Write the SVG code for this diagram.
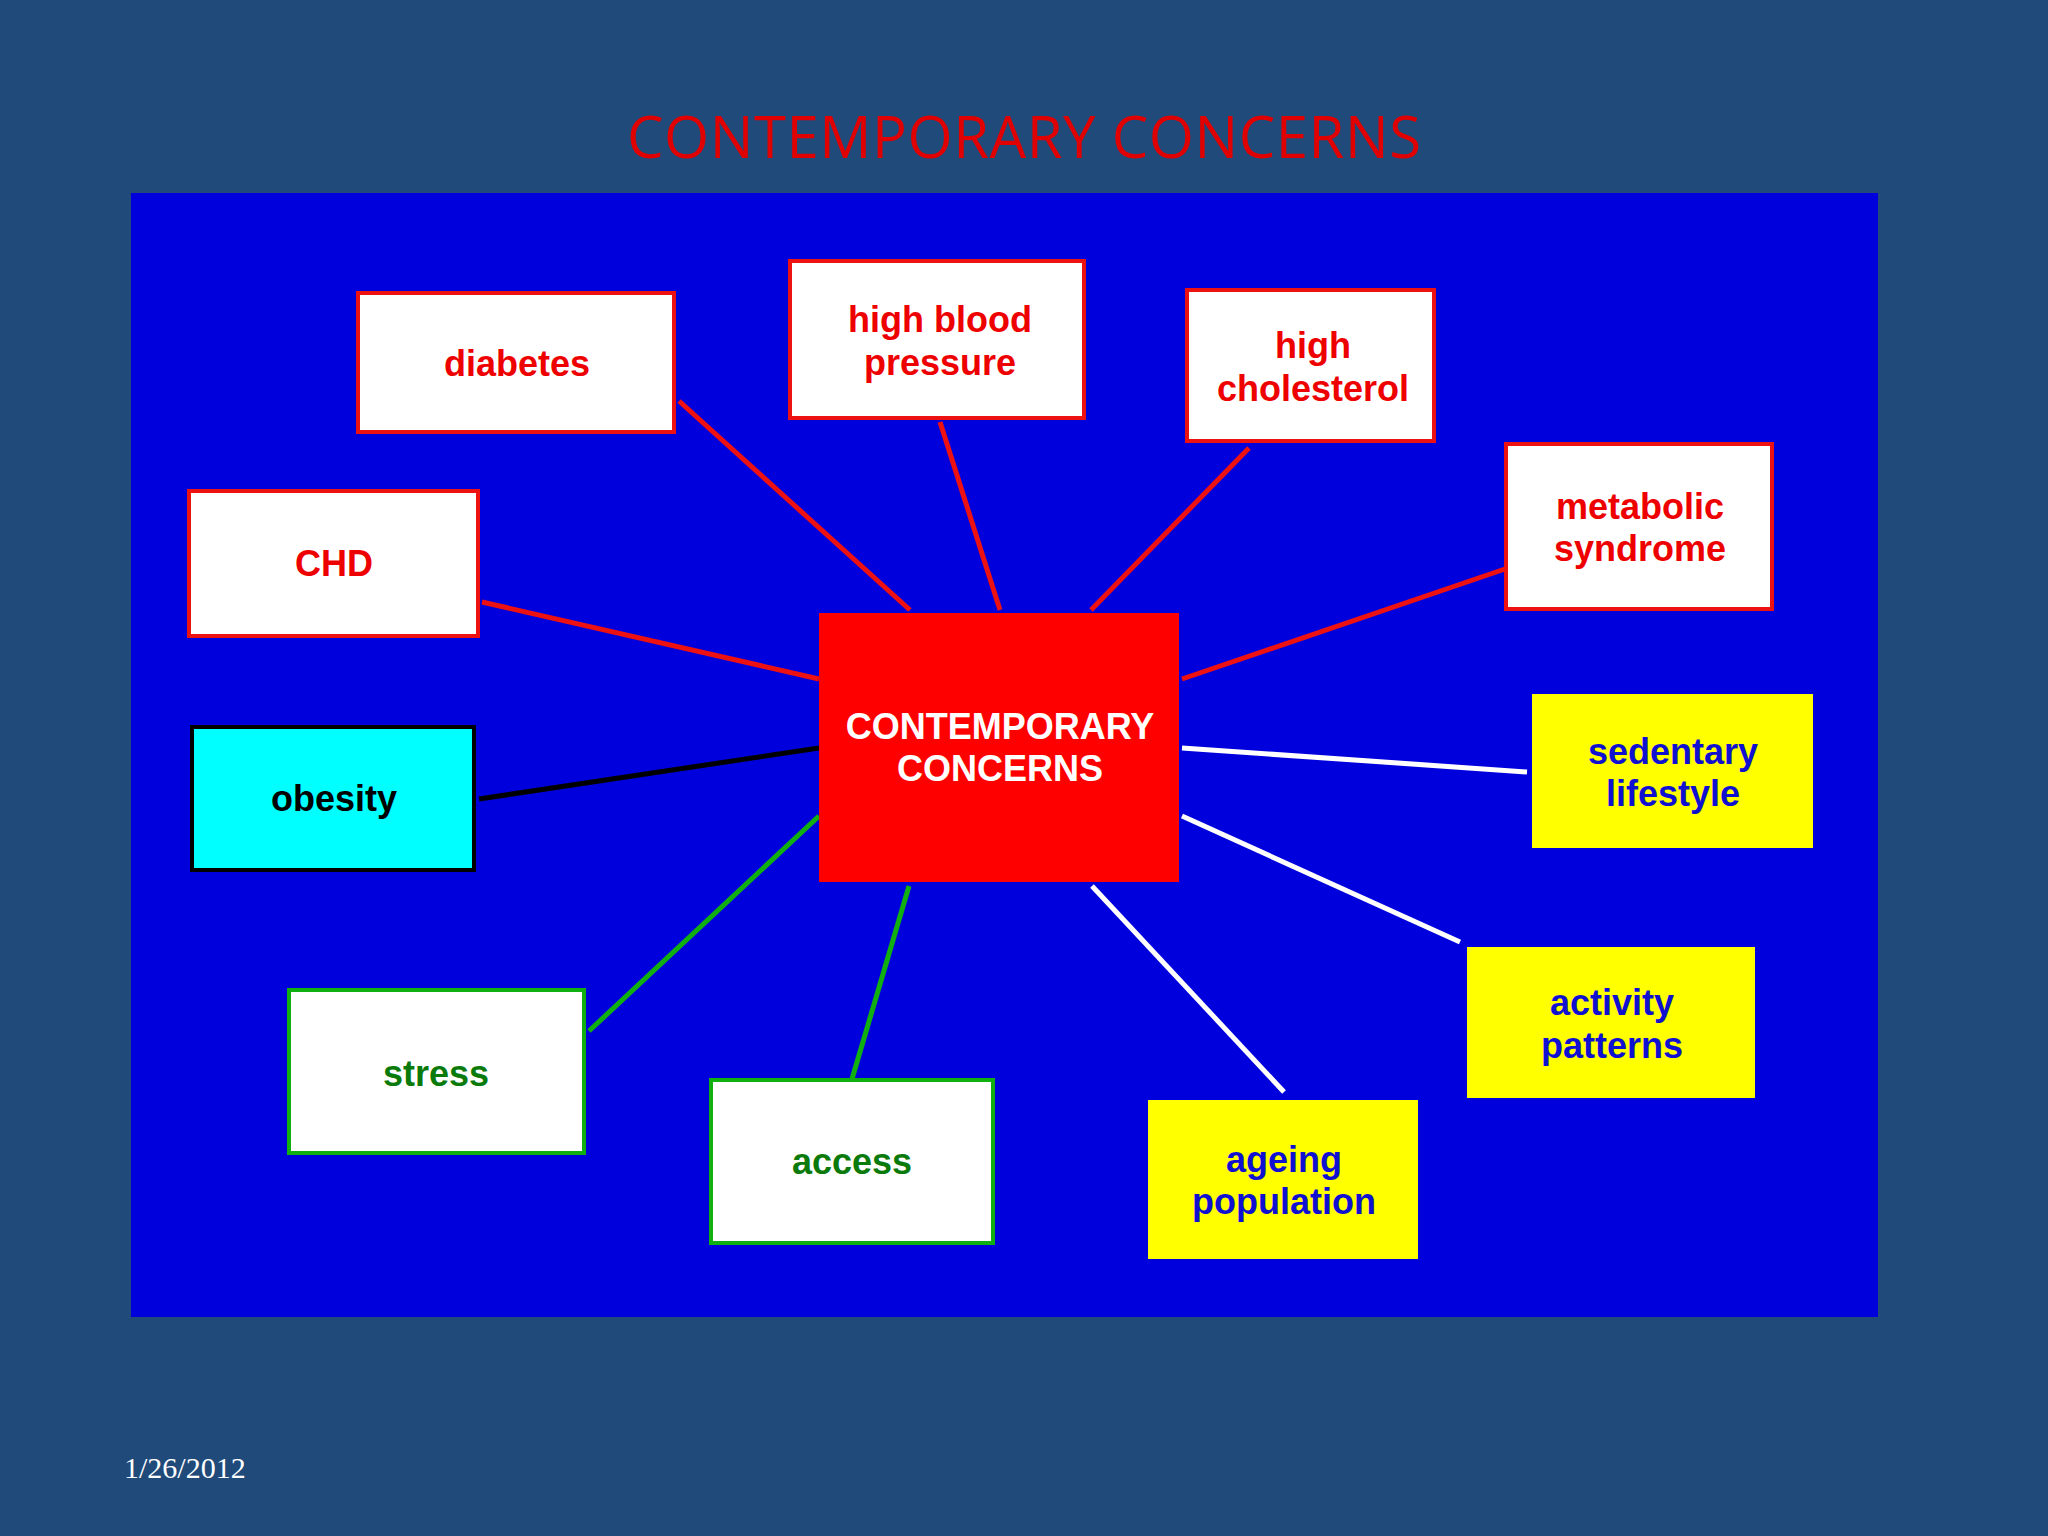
<svg xmlns="http://www.w3.org/2000/svg" width="2048" height="1536" viewBox="0 0 2048 1536">
<style>
.t{font-family:"Liberation Sans",Arial,sans-serif;font-weight:bold;font-size:36px;text-anchor:middle}
.r{fill:#fff;stroke:#ee1111;stroke-width:4}
.g{fill:#fff;stroke:#11b011;stroke-width:4}
.y{fill:#ffff00}
.tr{fill:#ee0000}.tb{fill:#1010d0}.tg{fill:#0a7a0a}
.c line{stroke-width:5}
</style>
<rect width="2048" height="1536" fill="#1f4a7a"/>
<rect x="131" y="193" width="1747" height="1124" fill="#0000dd"/>
<text x="1024" y="158" font-family="'Open Sans','Liberation Sans',sans-serif" font-size="58" fill="#e00000" text-anchor="middle" textLength="794">CONTEMPORARY CONCERNS</text>
<text x="124" y="1478" font-family="'Liberation Serif',serif" font-size="30" fill="#fff">1/26/2012</text>
<g id="connectors" class="c">
<line x1="679" y1="401" x2="910" y2="610" stroke="#ee1111"/>
<line x1="940" y1="422" x2="1000" y2="610" stroke="#ee1111"/>
<line x1="1249" y1="448" x2="1091" y2="610" stroke="#ee1111"/>
<line x1="1505" y1="569" x2="1182" y2="679" stroke="#ee1111"/>
<line x1="482" y1="602" x2="819" y2="679" stroke="#ee1111"/>
<line x1="479" y1="799" x2="819" y2="748" stroke="#000"/>
<line x1="589" y1="1031" x2="819" y2="816" stroke="#11b011"/>
<line x1="852" y1="1079" x2="909" y2="886" stroke="#11b011"/>
<line x1="1284" y1="1092" x2="1092" y2="886" stroke="#fff"/>
<line x1="1460" y1="942" x2="1182" y2="816" stroke="#fff"/>
<line x1="1527" y1="772" x2="1182" y2="748" stroke="#fff"/>
</g>
<g id="center"><rect x="819" y="613" width="360" height="269" fill="#ff0000"/><text class="t" fill="#fff" x="1000" y="739">CONTEMPORARY</text><text class="t" fill="#fff" x="1000" y="781">CONCERNS</text></g>
<g id="diabetes"><rect class="r" x="358" y="293" width="316" height="139"/><text class="t tr" x="517" y="376">diabetes</text></g>
<g id="hbp"><rect class="r" x="790" y="261" width="294" height="157"/><text class="t tr" x="940" y="332">high blood</text><text class="t tr" x="940" y="375">pressure</text></g>
<g id="chol"><rect class="r" x="1187" y="290" width="247" height="151"/><text class="t tr" x="1313" y="358">high</text><text class="t tr" x="1313" y="401">cholesterol</text></g>
<g id="metab"><rect class="r" x="1506" y="444" width="266" height="165"/><text class="t tr" x="1640" y="519">metabolic</text><text class="t tr" x="1640" y="561">syndrome</text></g>
<g id="chd"><rect class="r" x="189" y="491" width="289" height="145"/><text class="t tr" x="334" y="576">CHD</text></g>
<g id="obesity"><rect x="192" y="727" width="282" height="143" fill="#00ffff" stroke="#000" stroke-width="4"/><text class="t" fill="#000" x="334" y="811">obesity</text></g>
<g id="sedentary"><rect class="y" x="1532" y="694" width="281" height="154"/><text class="t tb" x="1673" y="764">sedentary</text><text class="t tb" x="1673" y="806">lifestyle</text></g>
<g id="activity"><rect class="y" x="1467" y="947" width="288" height="151"/><text class="t tb" x="1612" y="1015">activity</text><text class="t tb" x="1612" y="1058">patterns</text></g>
<g id="ageing"><rect class="y" x="1148" y="1100" width="270" height="159"/><text class="t tb" x="1284" y="1172">ageing</text><text class="t tb" x="1284" y="1214">population</text></g>
<g id="access"><rect class="g" x="711" y="1080" width="282" height="163"/><text class="t tg" x="852" y="1174">access</text><text/></g>
<g id="stress"><rect class="g" x="289" y="990" width="295" height="163"/><text class="t tg" x="436" y="1086">stress</text></g>
</svg>
